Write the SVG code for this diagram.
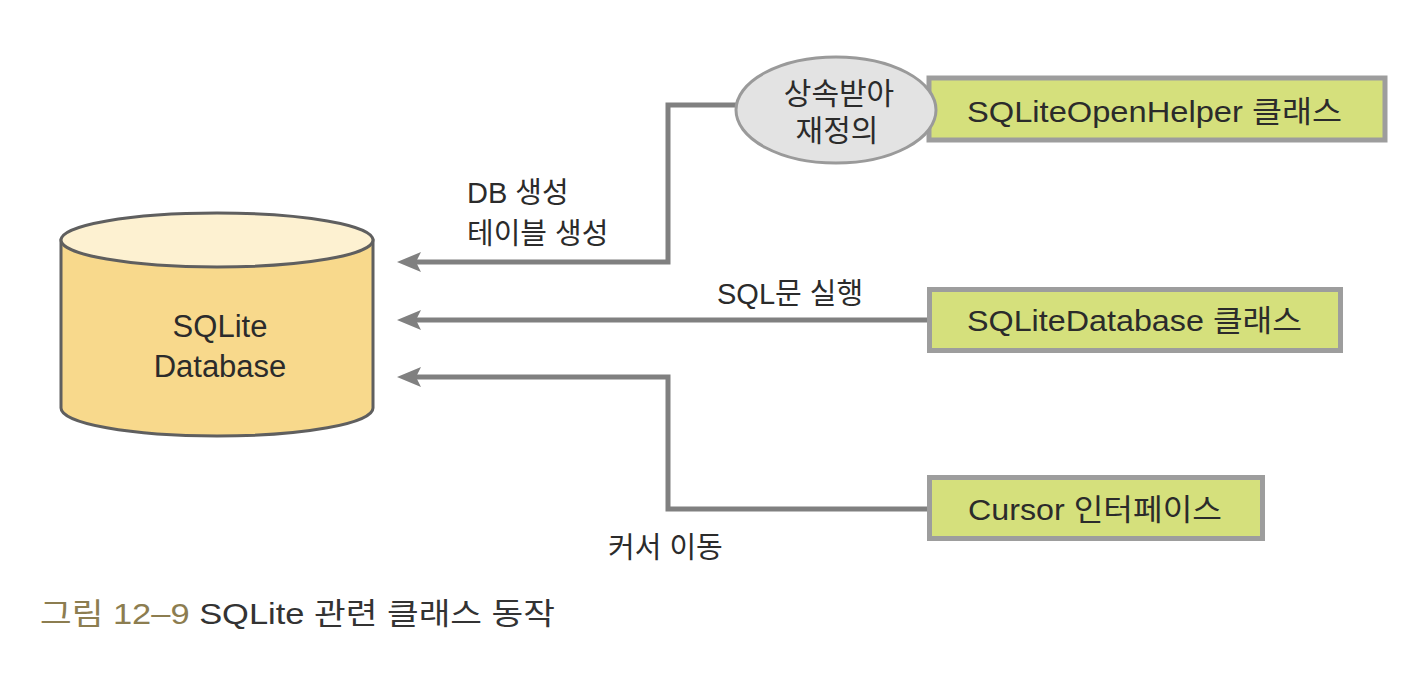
<svg xmlns="http://www.w3.org/2000/svg" width="1426" height="678" viewBox="0 0 1426 678">
  <style>
    .t { font-family: "Liberation Sans", "Noto Sans CJK KR", sans-serif; fill: #2b2b2b; }
    .conn { fill: none; stroke: #808080; stroke-width: 5; stroke-linejoin: miter; }
    .box { fill: #d5e07c; stroke: #9d9d9d; stroke-width: 5; }
  </style>
  <defs>
    <marker id="arr" markerUnits="userSpaceOnUse" markerWidth="26" markerHeight="24" viewBox="0 0 26 24" refX="14" refY="12" orient="auto">
      <path d="M0,2 L24,12 L0,22 L5,12 Z" fill="#808080"/>
    </marker>
  </defs>
  <rect width="1426" height="678" fill="#ffffff"/>

  <g id="connectors">
    <path class="conn" d="M745,105 H668 V262 H407" marker-end="url(#arr)"/>
    <path class="conn" d="M932,320 H407" marker-end="url(#arr)"/>
    <path class="conn" d="M932,509 H668 V377 H407" marker-end="url(#arr)"/>
  </g>

  <g id="sqlite-db">
    <path d="M61,240 V408 A156,28 0 0 0 373,408 V240 Z" fill="#f8d98c" stroke="#5f5f5f" stroke-width="3"/>
    <ellipse cx="217" cy="240" rx="156" ry="27" fill="#fdf1d1" stroke="#5f5f5f" stroke-width="3"/>
    <text class="t" x="220" y="337" font-size="31" text-anchor="middle">SQLite</text>
    <text class="t" x="220" y="377" font-size="31" text-anchor="middle">Database</text>
  </g>

  <g id="openhelper">
    <rect class="box" x="929" y="78" width="456" height="62"/>
    <text class="t" x="967" y="122" font-size="30" textLength="375" lengthAdjust="spacingAndGlyphs">SQLiteOpenHelper 클래스</text>
  </g>

  <g id="override">
    <ellipse cx="836" cy="110" rx="100" ry="53" fill="#e3e3e3" stroke="#9a9a9a" stroke-width="3"/>
    <text class="t" x="839" y="104" font-size="30" text-anchor="middle">상속받아</text>
    <text class="t" x="837" y="141" font-size="30" text-anchor="middle">재정의</text>
  </g>

  <g id="sqlitedatabase">
    <rect class="box" x="929.5" y="289.5" width="411" height="61"/>
    <text class="t" x="967" y="331" font-size="30" textLength="335" lengthAdjust="spacingAndGlyphs">SQLiteDatabase 클래스</text>
  </g>

  <g id="cursor">
    <rect class="box" x="929.5" y="477.5" width="333" height="61"/>
    <text class="t" x="968" y="520" font-size="30" textLength="254" lengthAdjust="spacingAndGlyphs">Cursor 인터페이스</text>
  </g>

  <g id="labels">
    <text class="t" x="467" y="203" font-size="29">DB 생성</text>
    <text class="t" x="467" y="244" font-size="29">테이블 생성</text>
    <text class="t" x="717" y="304" font-size="29">SQL문 실행</text>
    <text class="t" x="608" y="558" font-size="29">커서 이동</text>
  </g>

  <g id="caption">
    <text x="40" y="624" font-size="30" font-family="&quot;Liberation Sans&quot;, &quot;Noto Sans CJK KR&quot;, sans-serif" textLength="515" lengthAdjust="spacingAndGlyphs"><tspan fill="#8c7d50">그림 12–9 </tspan><tspan fill="#333333">SQLite 관련 클래스 동작</tspan></text>
  </g>
</svg>
